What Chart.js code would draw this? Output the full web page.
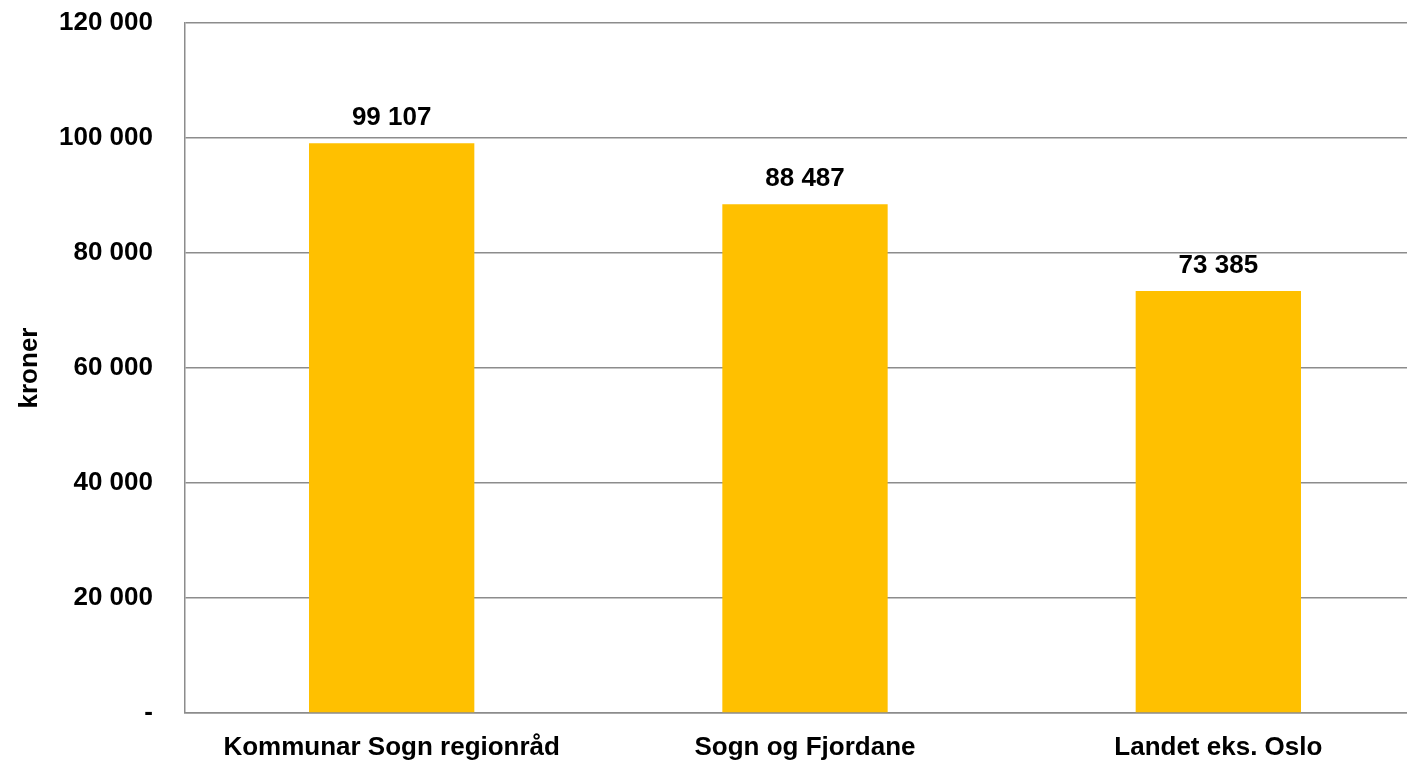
<!DOCTYPE html>
<html>
<head>
<meta charset="utf-8">
<script src="https://cdn.jsdelivr.net/npm/chart.js@4/dist/chart.umd.min.js"></script>
<style>
  html, body { margin: 0; padding: 0; background: #fff; overflow: hidden; }
  #wrap { width: 1425px; height: 760px; }
</style>
</head>
<body>
<div id="wrap"><canvas id="chart"></canvas></div>
<script>
const categories = ['Kommunar Sogn regionråd', 'Sogn og Fjordane', 'Landet eks. Oslo'];
const values = [99107, 88487, 73385];
const yTicks = [0, 20000, 40000, 60000, 80000, 100000, 120000];

const fmt = (v) => v === 0 ? '-' : String(v).replace(/\B(?=(\d{3})+(?!\d))/g, ' ');
const font = 'Liberation Sans, Arial, sans-serif';

// draw the value above each bar
const valueLabels = {
    id: 'valueLabels',
    afterDatasetsDraw(chart) {
        const c = chart.ctx;
        c.save();
        c.font = 'bold 26px ' + font;
        c.fillStyle = '#000';
        c.textAlign = 'center';
        c.textBaseline = 'alphabetic';
        chart.getDatasetMeta(0).data.forEach((bar, i) => {
            c.fillText(fmt(values[i]), bar.x, bar.y - 18);
        });
        c.restore();
    }
};

new Chart(document.getElementById('chart'), {
    type: 'bar',
    data: {
        labels: categories,
        datasets: [{
            data: values,
            backgroundColor: '#FFC000',
            categoryPercentage: 1,
            barPercentage: 0.4
        }]
    },
    plugins: [valueLabels],
    options: {
        responsive: true,
        maintainAspectRatio: false,
        animation: false,
        layout: { padding: { top: 23, left: 0, right: 0, bottom: 0 } },
        plugins: { legend: { display: false }, tooltip: { enabled: false } },
        scales: {
            x: {
                grid: { display: false, drawTicks: false },
                border: { color: '#8c8c8c', width: 1.5 },
                ticks: { color: '#000', font: { family: font, size: 26, weight: 'bold' }, padding: 19, maxRotation: 0 },
                afterFit: (s) => { s.height = 47; s.paddingLeft = 0; s.paddingRight = 0; }
            },
            y: {
                min: 0,
                max: 120000,
                afterBuildTicks: (s) => { s.ticks = yTicks.map(v => ({ value: v })); },
                grid: { color: '#8c8c8c', lineWidth: 1.5, drawTicks: false },
                border: { color: '#8c8c8c', width: 1.5 },
                ticks: {
                    color: '#000',
                    font: { family: font, size: 26, weight: 'bold' },
                    padding: 32,
                    callback: (v) => fmt(v)
                },
                title: {
                    display: true,
                    text: 'kroner',
                    color: '#000',
                    font: { family: font, size: 26, weight: 'bold' },
                    padding: { top: 14, bottom: 0 }
                },
                afterFit: (s) => { s.width = 185; s.paddingTop = 0; s.paddingBottom = 0; }
            }
        }
    }
});
</script>
</body>
</html>
